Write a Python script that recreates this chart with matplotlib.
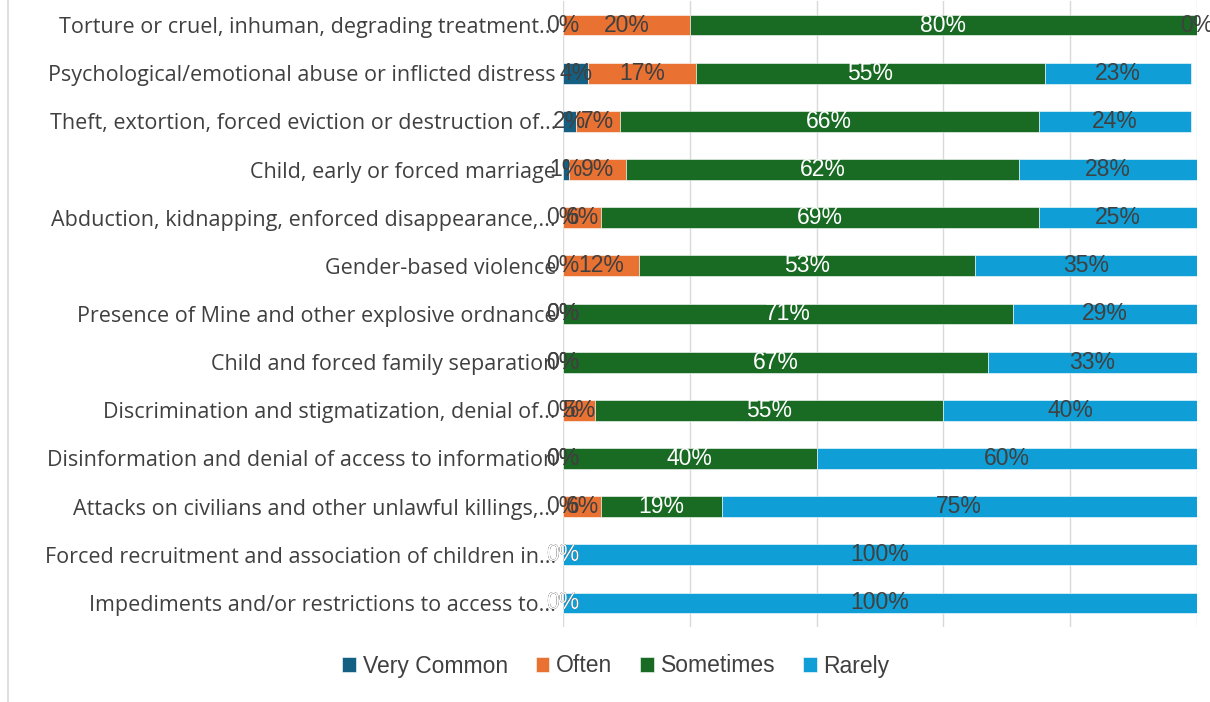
import matplotlib
matplotlib.use('Agg')
import matplotlib.pyplot as plt
from matplotlib import font_manager
from matplotlib.lines import Line2D

# categories listed top to bottom
categories = [
    'Torture or cruel, inhuman, degrading treatment...',
    'Psychological/emotional abuse or inflicted distress',
    'Theft, extortion, forced eviction or destruction of...',
    'Child, early or forced marriage',
    'Abduction, kidnapping, enforced disappearance,...',
    'Gender-based violence',
    'Presence of Mine and other explosive ordnance',
    'Child and forced family separation',
    'Discrimination and stigmatization, denial of...',
    'Disinformation and denial of access to information',
    'Attacks on civilians and other unlawful killings,...',
    'Forced recruitment and association of children in...',
    'Impediments and/or restrictions to access to...',
]
very_common = [0, 4, 2, 1, 0, 0, 0, 0, 0, 0, 0, 0, 0]
often = [20, 17, 7, 9, 6, 12, 0, 0, 5, 0, 6, 0, 0]
sometimes = [80, 55, 66, 62, 69, 53, 71, 67, 55, 40, 19, 0, 0]
rarely = [0, 23, 24, 28, 25, 35, 29, 33, 40, 60, 75, 100, 100]

series = ['Very Common', 'Often', 'Sometimes', 'Rarely']
colors = ['#156082', '#E97132', '#196B24', '#0F9ED5']
label_colors = ['#404040', '#404040', 'white', '#404040']

installed = {f.name for f in font_manager.fontManager.ttflist}
cat_font = 'Open Sans' if 'Open Sans' in installed else 'DejaVu Sans'
num_font = 'Liberation Sans Narrow' if 'Liberation Sans Narrow' in installed else 'Liberation Sans'

fig = plt.figure(figsize=(12.1, 7.02), dpi=100)
ax = fig.add_axes([563 / 1210, 1 - 627 / 702, 634 / 1210, 626 / 702])

ypos = list(range(len(categories)))
left = [0] * len(categories)
for name, vals, col, lcol in zip(series, [very_common, often, sometimes, rarely], colors, label_colors):
    bars = ax.barh(ypos, vals, left=left, height=0.43, color=col, label=name,
                   edgecolor='white', linewidth=0.4)
    for b, v in zip(bars, vals):
        ax.text(b.get_x() + b.get_width() / 2, b.get_y() + b.get_height() / 2,
                '{0}%'.format(v), ha='center', va='center', color=lcol,
                fontsize=16.5, family=num_font)
    left = [l + v for l, v in zip(left, vals)]

ax.set_xlim(0, 100)
ax.set_ylim(len(categories) - 0.5, -0.5)
ax.set_yticks(ypos)
ax.set_yticklabels(categories, fontsize=15.5, color='#404040', family=cat_font)
ax.tick_params(axis='y', length=0, pad=5)
ax.tick_params(axis='x', length=0, labelbottom=False)
ax.set_xticks([0, 20, 40, 60, 80, 100])
ax.grid(axis='x', color='#d9d9d9', linewidth=1)
ax.set_axisbelow(True)
for s in ax.spines.values():
    s.set_visible(False)

leg = fig.legend(loc='center', bbox_to_anchor=(616 / 1210, 1 - 666 / 702), ncol=4,
                 frameon=False, handlelength=0.6, handleheight=0.6, handletextpad=0.3,
                 columnspacing=1.2, prop={'family': num_font, 'size': 16.5})
for t in leg.get_texts():
    t.set_color('#404040')

# chart frame edge on the left
fig.add_artist(Line2D([8 / 1210, 8 / 1210], [0, 1], color='#d9d9d9', linewidth=1.2))

fig.savefig('out.png', dpi=100)
